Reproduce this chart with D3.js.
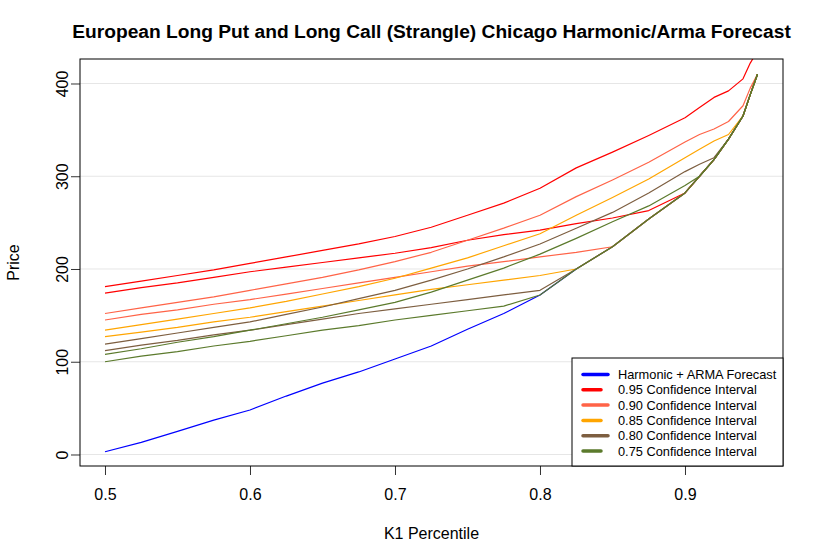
<!DOCTYPE html>
<html>
<head>
<meta charset="utf-8">
<script src="https://cdn.jsdelivr.net/npm/d3@7"></script>
<style>
  body { margin: 0; background: white; }
  text { font-family: "Liberation Sans", Arial, Helvetica, sans-serif; fill: black; }
</style>
</head>
<body>
<svg id="canvas"></svg>
<script>
const width = 824;
const height = 545;

// K1 percentile grid
const k1 = [0.5, 0.525, 0.55, 0.575, 0.6, 0.625, 0.65, 0.675, 0.7, 0.725, 0.75, 0.775,
            0.8, 0.825, 0.85, 0.875, 0.9, 0.91, 0.92, 0.93, 0.94, 0.945, 0.95];

const forecast = [3, 13, 25, 37, 48, 63, 77, 89, 103, 117, 135, 152,
                  172, 200, 224, 254, 282, 300, 318, 340, 365, 388, 410];

const upper95 = [181, 187, 193, 199, 206, 213, 220, 227, 235, 245, 258, 271,
                 287, 309, 326, 344, 363, 374, 385, 392, 405, 422, 435];
const lower95 = [174, 180, 185, 191, 197, 202, 207, 212, 217, 223, 231, 237,
                 242, 249, 255, 263, 282, 300, 318, 340, 365, 388, 410];

const upper90 = [152, 158, 164, 170, 177, 184, 191, 199, 208, 218, 231, 244,
                 258, 278, 296, 315, 337, 345, 351, 359, 376, 395, 410];
const lower90 = [145, 151, 156, 162, 167, 173, 179, 185, 191, 197, 203, 208,
                 213, 218, 224, 254, 282, 300, 318, 340, 365, 388, 410];

const upper85 = [134, 140, 146, 152, 158, 165, 173, 181, 190, 201, 212, 225,
                 238, 258, 277, 297, 320, 329, 338, 345, 365, 388, 410];
const lower85 = [127, 132, 137, 143, 148, 154, 160, 166, 172, 178, 183, 188,
                 193, 200, 224, 254, 282, 300, 318, 340, 365, 388, 410];

const upper80 = [119, 125, 131, 137, 143, 151, 159, 168, 177, 188, 200, 213,
                 227, 244, 261, 282, 305, 313, 320, 340, 365, 388, 410];
const lower80 = [112, 118, 123, 129, 134, 140, 146, 152, 157, 162, 167, 172,
                 177, 200, 224, 254, 282, 300, 318, 340, 365, 388, 410];

const upper75 = [108, 114, 121, 127, 134, 141, 148, 156, 164, 175, 188, 201,
                 216, 233, 251, 268, 290, 300, 318, 340, 365, 388, 410];
const lower75 = [100, 106, 111, 117, 122, 128, 134, 139, 145, 150, 155, 160,
                 172, 200, 224, 254, 282, 300, 318, 340, 365, 388, 410];

const xTicks = [0.5, 0.6, 0.7, 0.8, 0.9];
const yTicks = [0, 100, 200, 300, 400];

const legendLabels = ['Harmonic + ARMA Forecast', '0.95 Confidence Interval', '0.90 Confidence Interval',
                      '0.85 Confidence Interval', '0.80 Confidence Interval', '0.75 Confidence Interval'];
const colors = ['#0000ff', '#ff0000', '#ff6347', '#ffa500', '#7d5e40', '#5b7a2c'];

// drawing order: forecast first, then each interval (upper, lower)
const series = [
    { values: forecast, color: colors[0] },
    { values: upper95, color: colors[1] }, { values: lower95, color: colors[1] },
    { values: upper90, color: colors[2] }, { values: lower90, color: colors[2] },
    { values: upper85, color: colors[3] }, { values: lower85, color: colors[3] },
    { values: upper80, color: colors[4] }, { values: lower80, color: colors[4] },
    { values: upper75, color: colors[5] }, { values: lower75, color: colors[5] }
];

const plot = { left: 80, right: 783, top: 59, bottom: 466 };

const svg = d3.select('#canvas')
    .attr('width', width)
    .attr('height', height)
    .style('background-color', 'white');

const xScale = d3.scaleLinear()
    .domain([0.48276, 0.96759])
    .range([plot.left, plot.right]);

const yScale = d3.scaleLinear()
    .domain([-12.4, 426.4])
    .range([plot.bottom, plot.top]);

svg.append('clipPath')
    .attr('id', 'plot-clip')
    .append('rect')
    .attr('x', plot.left)
    .attr('y', plot.top)
    .attr('width', plot.right - plot.left)
    .attr('height', plot.bottom - plot.top);

// horizontal grid
svg.append('g')
    .selectAll('line')
    .data(yTicks)
    .enter()
    .append('line')
    .attr('x1', plot.left)
    .attr('x2', plot.right)
    .attr('y1', d => yScale(d))
    .attr('y2', d => yScale(d))
    .attr('stroke', '#e6e6e6')
    .attr('stroke-width', 1);

// curves
const line = d3.line()
    .x((d, i) => xScale(k1[i]))
    .y(d => yScale(d));

svg.append('g')
    .attr('clip-path', 'url(#plot-clip)')
    .selectAll('path')
    .data(series)
    .enter()
    .append('path')
    .attr('d', d => line(d.values))
    .attr('fill', 'none')
    .attr('stroke', d => d.color)
    .attr('stroke-width', 1.2)
    .attr('stroke-linejoin', 'round');

// axes
const xAxis = d3.axisBottom(xScale)
    .tickValues(xTicks)
    .tickFormat(d3.format('.1f'))
    .tickSize(9)
    .tickPadding(14);

const gx = svg.append('g')
    .attr('transform', 'translate(0,' + plot.bottom + ')')
    .call(xAxis);
gx.select('.domain').remove();
gx.selectAll('text').style('font-size', '16px').attr('fill', 'black');
gx.selectAll('line').attr('stroke', '#333');

// y axis: ticks from the scale, labels rotated like R's default
const yAxis = d3.axisLeft(yScale)
    .tickValues(yTicks)
    .tickFormat(d3.format('d'))
    .tickSize(9);

const gy = svg.append('g')
    .attr('transform', 'translate(' + plot.left + ',0)')
    .call(yAxis);
gy.select('.domain').remove();
gy.selectAll('line').attr('stroke', '#333');
gy.selectAll('text')
    .style('font-size', '16px')
    .attr('fill', 'black')
    .attr('x', 0)
    .attr('y', 0)
    .attr('dy', null)
    .attr('text-anchor', 'middle')
    .attr('transform', 'translate(-12,0) rotate(-90)');

// box
svg.append('rect')
    .attr('x', plot.left)
    .attr('y', plot.top)
    .attr('width', plot.right - plot.left)
    .attr('height', plot.bottom - plot.top)
    .attr('fill', 'none')
    .attr('stroke', 'black')
    .attr('stroke-width', 1);

// titles
svg.append('text')
    .attr('x', (plot.left + plot.right) / 2)
    .attr('y', 38)
    .attr('text-anchor', 'middle')
    .style('font-size', '19.2px')
    .style('font-weight', 'bold')
    .text('European Long Put and Long Call (Strangle) Chicago Harmonic/Arma Forecast');

svg.append('text')
    .attr('x', (plot.left + plot.right) / 2)
    .attr('y', 539)
    .attr('text-anchor', 'middle')
    .style('font-size', '16px')
    .text('K1 Percentile');

svg.append('text')
    .attr('transform', 'translate(19,' + (plot.top + plot.bottom) / 2 + ') rotate(-90)')
    .attr('text-anchor', 'middle')
    .style('font-size', '16px')
    .text('Price');

// legend
const legendBox = { left: 572, top: 358 };
const rowScale = d3.scalePoint()
    .domain(legendLabels)
    .range([374.5, 451]);

const legend = svg.append('g');
legend.append('rect')
    .attr('x', legendBox.left)
    .attr('y', legendBox.top)
    .attr('width', plot.right - legendBox.left)
    .attr('height', plot.bottom - legendBox.top)
    .attr('fill', 'white')
    .attr('stroke', 'black')
    .attr('stroke-width', 1);

const rows = legend.selectAll('g.row')
    .data(legendLabels)
    .enter()
    .append('g')
    .attr('class', 'row');

rows.append('line')
    .attr('x1', 583)
    .attr('x2', (d, i) => i % 2 === 0 ? 608 : 601)
    .attr('y1', d => rowScale(d))
    .attr('y2', d => rowScale(d))
    .attr('stroke', (d, i) => colors[i])
    .attr('stroke-width', 3.5)
    .attr('stroke-linecap', 'round');

rows.append('text')
    .attr('x', 618)
    .attr('y', d => rowScale(d))
    .attr('dy', '0.36em')
    .style('font-size', '12.8px')
    .text(d => d);
</script>
</body>
</html>
